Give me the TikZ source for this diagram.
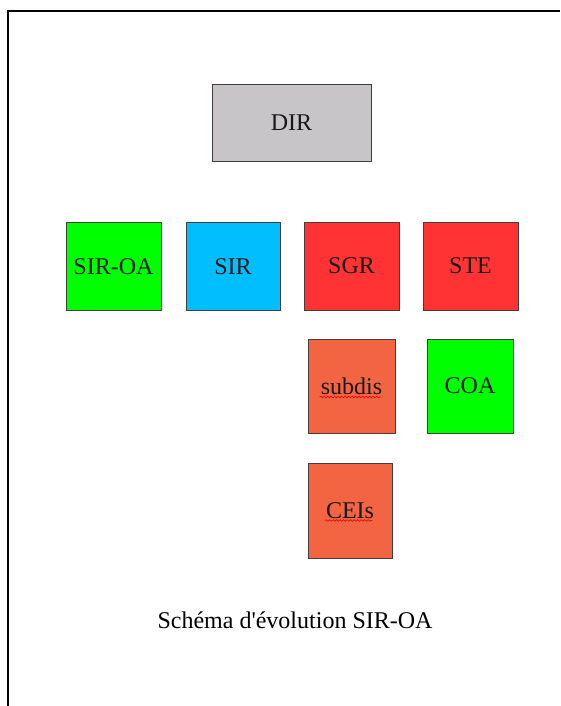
\documentclass[tikz,border=0pt]{standalone}
\usepackage{fontspec}
\setmainfont{Liberation Serif}
\usetikzlibrary{calc,decorations.pathmorphing}
\definecolor{grayc}{RGB}{200,197,200}
\definecolor{greenc}{RGB}{0,255,0}
\definecolor{bluec}{RGB}{0,190,255}
\definecolor{redc}{RGB}{255,51,51}
\definecolor{orangec}{RGB}{242,100,66}
\definecolor{edgec}{RGB}{70,60,60}
\begin{document}
\begin{tikzpicture}[x=1pt,y=-1pt,
  unit/.style={draw=edgec, line width=0.9pt, inner sep=0pt, font=\fontsize{24}{27}\selectfont, text=black!90},
  squig/.style={red!85!black, line width=0.6pt, decorate, decoration={snake, amplitude=0.8pt, segment length=3.5pt}}]
\useasboundingbox (0,0) rectangle (560,706);
\fill[white] (0,0) rectangle (560,706);
\coordinate (bl) at (8,706);
\coordinate (tl) at (8,11);
\coordinate (tr) at (560,11);
\draw[line width=1.2pt] (bl) -- (tl) -- (tr);
\node[unit, fill=grayc, minimum width=159pt, minimum height=77pt] (dir) at (291.5,122.5) {DIR};
\node[unit, fill=greenc, minimum width=95pt, minimum height=88pt] (siroa) at (113.5,266.5) {SIR-OA};
\node[unit, fill=bluec, minimum width=94pt, minimum height=88pt] (sir) at (233,266.5) {SIR};
\node[unit, fill=redc, minimum width=95pt, minimum height=88pt] (sgr) at (351.5,266) {SGR};
\node[unit, fill=redc, minimum width=95pt, minimum height=88pt] (ste) at (470.5,266) {STE};
\node[unit, fill=orangec, minimum width=87pt, minimum height=94pt] (subdis) at (351.5,386) {subdis};
\node[unit, fill=greenc, minimum width=86pt, minimum height=94pt] (coa) at (470,386) {COA};
\node[unit, fill=orangec, minimum width=84pt, minimum height=95pt] (ceis) at (350,510.5) {CEIs};
\draw[squig] ($(subdis.center)+(-32,11)$) -- ($(subdis.center)+(29,11)$);
\draw[squig] ($(ceis.center)+(-25,10)$) -- ($(ceis.center)+(22,10)$);
\node[inner sep=0pt, font=\fontsize{24}{27}\selectfont] (title) at (295,620) {Schéma d\textquotesingle évolution SIR-OA};
\end{tikzpicture}
\end{document}
